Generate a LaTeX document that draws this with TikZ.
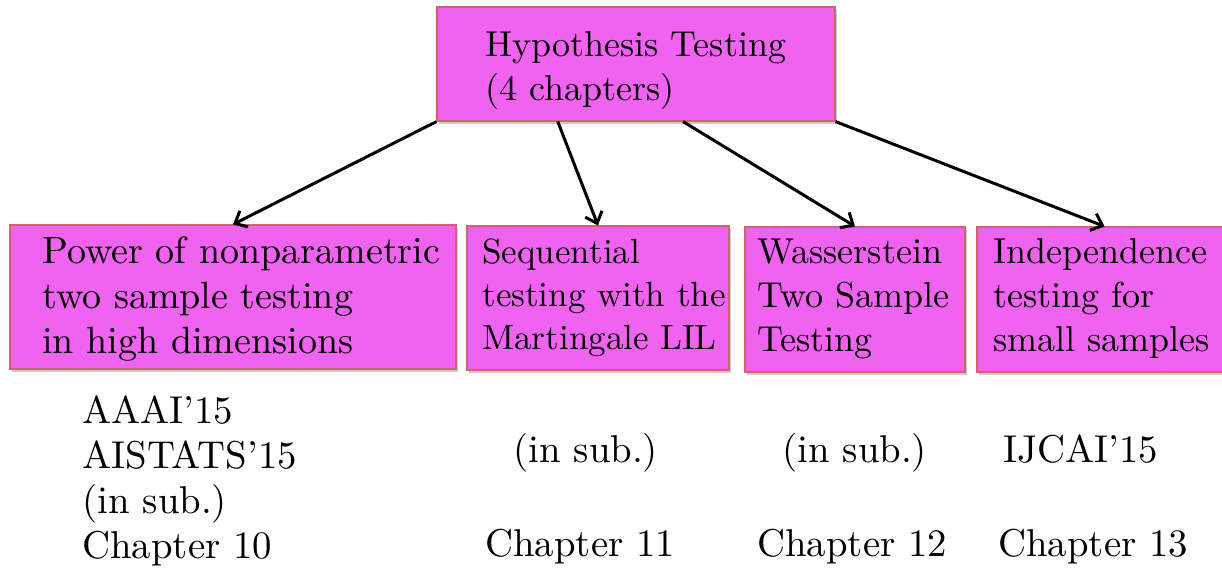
\documentclass[tikz,border=0pt]{standalone}
\usepackage{fontspec}
\setmainfont{lmroman10-regular.otf}
\usetikzlibrary{arrows.meta,shadows,fit,calc}
\definecolor{boxfill}{RGB}{240,98,240}
\definecolor{boxline}{RGB}{205,100,110}
\begin{document}
\begin{tikzpicture}[x=0.5pt,y=-0.5pt,
  box/.style={draw=boxline, line width=0.6pt, fill=boxfill, inner sep=0pt,
    drop shadow={shadow xshift=1.2pt, shadow yshift=-1.5pt, opacity=0.3, fill=black!70}},
  txt/.style={anchor=base west, inner sep=0pt, align=left, text width=260pt,
    font=\fontsize{18}{22}\selectfont},
  low/.style={txt, font=\fontsize{19.4}{22.5}\selectfont},
  arr/.style={-{Straight Barb[length=5pt,width=9pt]}, line width=1.5pt, black}]
\useasboundingbox (0,0) rectangle (1222,569);

% boxes
\node[box, fit={(437,7) (835,121)}] (top) {};
\node[box, fit={(10,225) (456,369)}] (b1) {};
\node[box, fit={(467,226) (729,370)}] (b2) {};
\node[box, fit={(745,227) (965,372)}] (b3) {};
\node[box, fit={(977,227) (1232,372)}] (b4) {};

% box texts
\node[txt] (ttop) at (485,56) {Hypothesis Testing\\(4 chapters)};
\node[txt, font=\fontsize{19}{22.5}\selectfont] (t1) at (42,263) {Power of nonparametric\\two sample testing\\in high dimensions};
\node[txt, font=\fontsize{17.5}{21.5}\selectfont] (t2) at (482,263) {Sequential\\testing with the\\Martingale LIL};
\node[txt] (t3) at (757,263) {Wasserstein\\Two Sample\\Testing};
\node[txt] (t4) at (993,263) {Independence\\testing for\\small samples};

% arrows
\draw[arr] (top.south west) -- (b1.north);
\draw[arr] ($(top.south west)!0.304!(top.south east)$) -- (b2.north);
\draw[arr] ($(top.south west)!0.618!(top.south east)$) -- (b3.north);
\draw[arr] (top.south east) -- (b4.north);

% venues and chapters
\node[low] (v1) at (82,423) {AAAI'15\\AISTATS'15\\(in sub.)\\Chapter 10};
\node[low] (v2) at (513,462) {(in sub.)};
\node[low] (v3) at (782,462) {(in sub.)};
\node[low] (v4) at (1003,462) {IJCAI'15};
\node[low] (c2) at (485,556) {Chapter 11};
\node[low] (c3) at (757,556) {Chapter 12};
\node[low] (c4) at (998,556) {Chapter 13};
\end{tikzpicture}
\end{document}
